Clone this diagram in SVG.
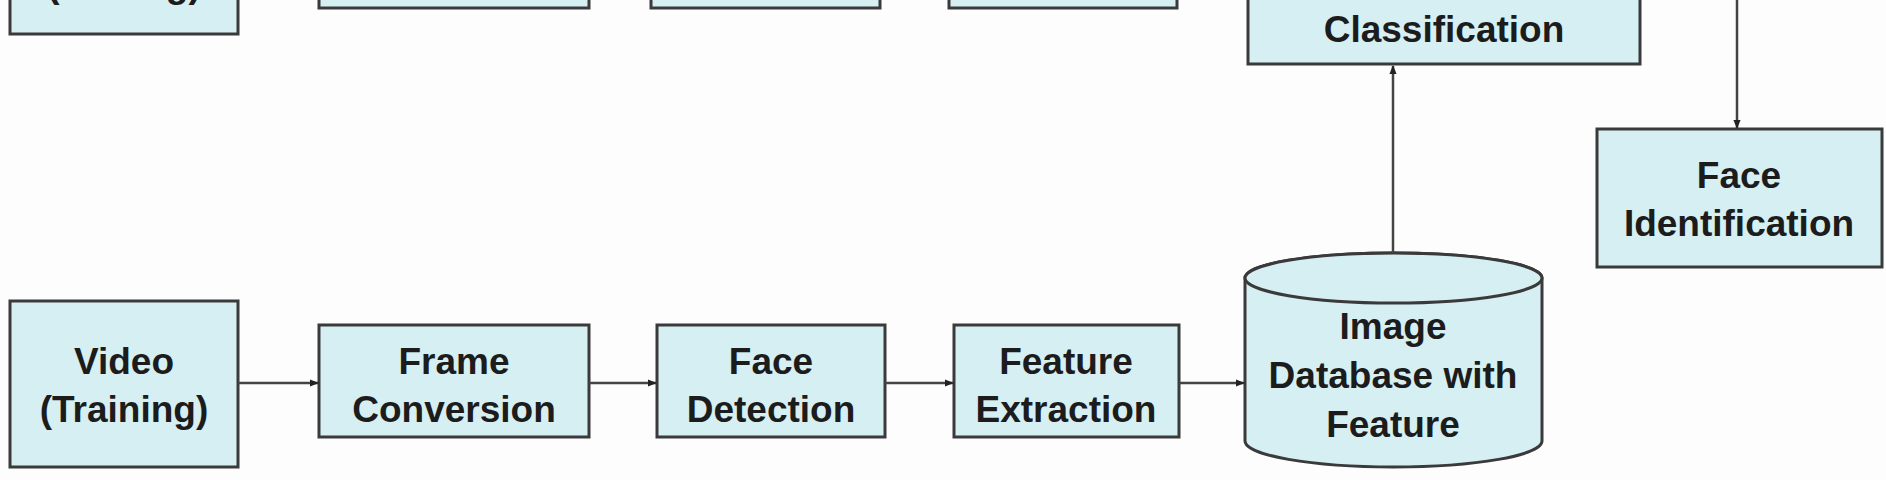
<svg xmlns="http://www.w3.org/2000/svg" width="1886" height="480" viewBox="0 0 1886 480">
<defs>
<style>
.box{fill:#d6eff3;stroke:#3a3a3a;stroke-width:3}
.lbl{font-family:"Liberation Sans",Arial,sans-serif;font-weight:bold;font-size:37px;fill:#1c1c1c;text-anchor:middle}
.conn{stroke:#444;stroke-width:2.5;fill:none}
</style>
<marker id="ah" viewBox="0 0 10 10" refX="9" refY="5" markerWidth="9" markerHeight="9" markerUnits="userSpaceOnUse" orient="auto">
<path d="M0,1 L10,5 L0,9 Z" fill="#222"/>
</marker>
</defs>
<rect width="1886" height="480" fill="#fdfdfd"/>

<g id="video-testing">
<rect class="box" x="10" y="-20" width="228" height="54"/>
<text class="lbl" x="124" y="-3">(Testing)</text>
</g>
<g id="frame-conversion-top"><rect class="box" x="319" y="-20" width="270" height="28"/></g>
<g id="face-detection-top"><rect class="box" x="651" y="-20" width="229" height="28"/></g>
<g id="feature-extraction-top"><rect class="box" x="949" y="-20" width="228" height="28"/></g>

<g id="classification">
<rect class="box" x="1248" y="-20" width="392" height="84"/>
<text class="lbl" x="1444" y="42">Classification</text>
</g>

<g id="face-identification">
<rect class="box" x="1597" y="129" width="285" height="138"/>
<text class="lbl" x="1739" y="188">Face</text>
<text class="lbl" x="1739" y="236">Identification</text>
</g>

<g id="video-training">
<rect class="box" x="10" y="301" width="228" height="166"/>
<text class="lbl" x="124" y="374">Video</text>
<text class="lbl" x="124" y="422">(Training)</text>
</g>

<g id="frame-conversion">
<rect class="box" x="319" y="325" width="270" height="112"/>
<text class="lbl" x="454" y="374">Frame</text>
<text class="lbl" x="454" y="422">Conversion</text>
</g>

<g id="face-detection">
<rect class="box" x="657" y="325" width="228" height="112"/>
<text class="lbl" x="771" y="374">Face</text>
<text class="lbl" x="771" y="422">Detection</text>
</g>

<g id="feature-extraction">
<rect class="box" x="954" y="325" width="225" height="112"/>
<text class="lbl" x="1066" y="374">Feature</text>
<text class="lbl" x="1066" y="422">Extraction</text>
</g>

<g id="image-database">
<path class="box" d="M1245,278 L1245,441 A148.5,26 0 0 0 1542,441 L1542,278 A148.5,25 0 0 0 1245,278 Z"/>
<ellipse class="box" cx="1393.5" cy="278" rx="148.5" ry="25"/>
<text class="lbl" x="1393" y="339">Image</text>
<text class="lbl" x="1393" y="388">Database with</text>
<text class="lbl" x="1393" y="437">Feature</text>
</g>

<g id="connectors">
<line class="conn" x1="238" y1="383" x2="318" y2="383" marker-end="url(#ah)"/>
<line class="conn" x1="589" y1="383" x2="656" y2="383" marker-end="url(#ah)"/>
<line class="conn" x1="885" y1="383" x2="953" y2="383" marker-end="url(#ah)"/>
<line class="conn" x1="1179" y1="383" x2="1244" y2="383" marker-end="url(#ah)"/>
<line class="conn" x1="1393" y1="253" x2="1393" y2="66" marker-end="url(#ah)"/>
<line class="conn" x1="1737" y1="0" x2="1737" y2="128" marker-end="url(#ah)"/>
</g>
</svg>
